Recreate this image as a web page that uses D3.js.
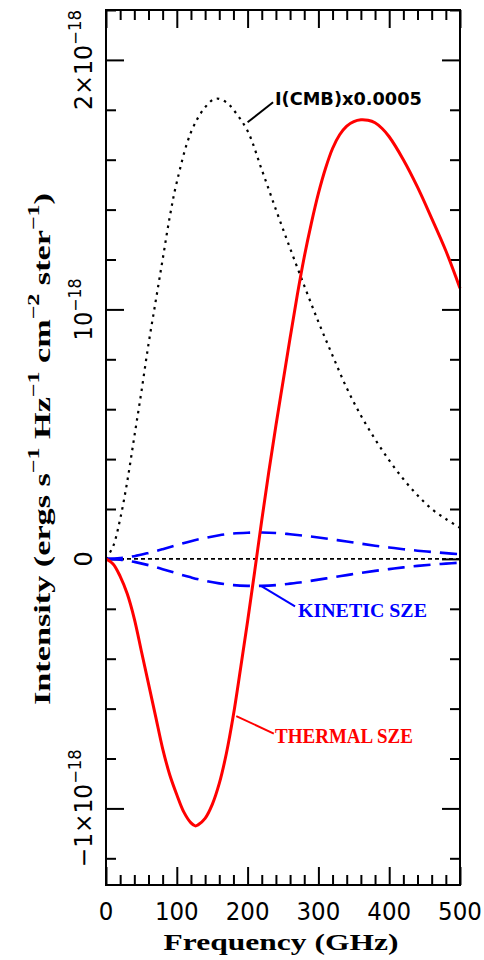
<!DOCTYPE html>
<html>
  <head>
    <style>
      body { margin: 0; background: #fff; }
      .tick line { stroke: #000; stroke-width: 2px; }
      .domain { display: none; }
    </style>
  </head>
  <body>
    <script src="https://d3js.org/d3.v7.min.js"></script>
    <script>
    var width = 484, height = 960;

    // frequencies in GHz, intensities in units of 1e-18 erg s-1 Hz-1 cm-2 ster-1
    var freqCMB = [0,10,20,30,40,50,60,70,80,90,100,120,140,155,170,180,200,220,240,260,280,300,320,340,360,380,400,420,440,460,480,500];
    var cmbVals = [0,0.05,0.16,0.31,0.49,0.67,0.86,1.03,1.20,1.37,1.51,1.71,1.81,1.845,1.83,1.80,1.715,1.56,1.40,1.245,1.095,0.95,0.815,0.685,0.575,0.48,0.395,0.32,0.255,0.20,0.16,0.125];

    var freqT = [0,10,20,30,40,50,60,70,80,90,100,110,120,126,130,140,150,160,170,180,190,200,210,220,230,240,250,260,270,280,290,300,310,320,330,340,350,360,370,380,390,400,420,440,460,480,500];
    var thermVals = [0,-0.02,-0.07,-0.14,-0.24,-0.37,-0.50,-0.63,-0.76,-0.865,-0.945,-1.015,-1.058,-1.07,-1.066,-1.04,-0.985,-0.90,-0.78,-0.625,-0.44,-0.25,-0.05,0.155,0.35,0.535,0.71,0.885,1.055,1.21,1.345,1.465,1.565,1.645,1.70,1.735,1.753,1.76,1.758,1.748,1.725,1.692,1.60,1.49,1.365,1.235,1.085];

    var freqK = [0,20,40,60,80,100,120,140,160,180,200,220,240,260,280,300,320,340,360,380,400,420,440,460,480,500];
    var kinUp = [0,0.003,0.011,0.024,0.039,0.055,0.071,0.084,0.095,0.102,0.105,0.106,0.104,0.099,0.093,0.086,0.078,0.070,0.061,0.053,0.046,0.039,0.033,0.028,0.023,0.019];
    var kinDown = [0,-0.003,-0.012,-0.025,-0.041,-0.058,-0.074,-0.088,-0.098,-0.105,-0.108,-0.108,-0.105,-0.099,-0.092,-0.083,-0.074,-0.065,-0.056,-0.048,-0.041,-0.034,-0.028,-0.023,-0.019,-0.015];

    var xTickVals = [0,100,200,300,400,500];
    var yTickLabels = [
      {v: 2, parts: [["2×10"], ["−18", 1]], len: 100},
      {v: 1, parts: [["10"], ["−18", 1]], len: 62},
      {v: 0, parts: [["0"]], len: 0},
      {v: -1, parts: [["−1×10"], ["−18", 1]], len: 118}
    ];
    var yTitle = [["Intensity (ergs s"], ["−1", 1], [" Hz"], ["−1", 1], [" cm"], ["−2", 1], [" ster"], ["−1", 1], [")"]];

    var svg = d3.select("body").append("svg")
        .attr("width", width)
        .attr("height", height);

    var x = d3.scaleLinear().domain([0, 500]).range([106, 460]);
    var y = d3.scaleLinear().domain([-1.307, 2.2]).range([885, 10]);

    // ticks on all four sides, pointing inwards
    function ticks(axis, tx, ty, vals, size) {
      svg.append("g")
          .attr("transform", "translate(" + tx + "," + ty + ")")
          .call(axis.tickValues(vals).tickSize(size).tickFormat(""));
    }
    var xMinor = d3.range(0, 501, 20).filter(function(d){ return d % 100; });
    var yMinor = d3.range(-12, 23, 2).map(function(d){ return d / 10; }).filter(function(d){ return Math.abs(d - Math.round(d)) > 0.01; });
    var yMajor = [-1, 0, 1, 2];
    ticks(d3.axisBottom(x), 0, 885, xMinor, -10);
    ticks(d3.axisBottom(x), 0, 885, xTickVals, -18);
    ticks(d3.axisTop(x), 0, 10, xMinor, -10);
    ticks(d3.axisTop(x), 0, 10, xTickVals, -18);
    ticks(d3.axisLeft(y), 106, 0, yMinor, -10);
    ticks(d3.axisLeft(y), 106, 0, yMajor, -18);
    ticks(d3.axisRight(y), 460, 0, yMinor, -10);
    ticks(d3.axisRight(y), 460, 0, yMajor, -18);

    var line = d3.line()
        .x(function(d){ return x(d[0]); })
        .y(function(d){ return y(d[1]); })
        .curve(d3.curveCatmullRom.alpha(0.5));

    svg.append("path")
        .datum(freqCMB.map(function(f, i){ return [f, cmbVals[i]]; }))
        .attr("d", line)
        .attr("fill", "none")
        .attr("stroke", "#000")
        .attr("stroke-width", 2.2)
        .attr("stroke-dasharray", "2.5,5");

    svg.append("path")
        .datum([[0, 0], [500, 0]])
        .attr("d", line)
        .attr("stroke", "#000")
        .attr("stroke-width", 1.6)
        .attr("stroke-dasharray", "4,3");

    [kinUp, kinDown].forEach(function(vals) {
      svg.append("path")
          .datum(freqK.map(function(f, i){ return [f, vals[i]]; }))
          .attr("d", line)
          .attr("fill", "none")
          .attr("stroke", "#0000ff")
          .attr("stroke-width", 2.6)
          .attr("stroke-dasharray", "17,9");
    });

    svg.append("path")
        .datum(freqT.map(function(f, i){ return [f, thermVals[i]]; }))
        .attr("d", line)
        .attr("fill", "none")
        .attr("stroke", "#ff0000")
        .attr("stroke-width", 3);

    svg.append("rect")
        .attr("x", x(0)).attr("y", y(2.2))
        .attr("width", x(500) - x(0)).attr("height", y(-1.307) - y(2.2))
        .attr("fill", "none")
        .attr("stroke", "#000")
        .attr("stroke-width", 2);

    // text with optional superscripts, stretched to a given length
    function label(parts, o) {
      var t = svg.append("text")
          .attr("font-family", o.font || "DejaVu Sans")
          .attr("font-weight", o.weight || "normal")
          .attr("font-size", o.size)
          .attr("fill", o.color || "#000");
      var up = 0;
      parts.forEach(function(p) {
        var s = t.append("tspan").text(p[0]);
        if (p[1] && !up) { s.attr("dy", -o.size * 0.45).attr("font-size", o.size * 0.7); up = 1; }
        else if (!p[1] && up) { s.attr("dy", o.size * 0.45); up = 0; }
        else if (p[1]) s.attr("font-size", o.size * 0.7);
      });
      var b = t.node().getBBox();
      var sx = o.len ? o.len / b.width : 1;
      var a = o.anchor == null ? 0.5 : o.anchor;
      t.attr("transform", "translate(" + o.x + "," + o.y + ") rotate(" + (o.rot || 0) + ") scale(" + sx + ",1) translate(" + (-b.x - a * b.width) + ",0)");
      return t;
    }

    xTickVals.forEach(function(v) {
      label([[String(v)]], {x: x(v), y: 920, size: 24, len: String(v).length * 14.6});
    });
    label([["Frequency (GHz)"]], {x: 281, y: 950, size: 24, font: "Liberation Serif", weight: "bold", len: 235});

    yTickLabels.forEach(function(d) {
      label(d.parts, {x: 92, y: y(d.v), rot: -90, size: 24, len: d.len});
    });
    label(yTitle, {x: 50, y: 449, rot: -90, size: 24, font: "Liberation Serif", weight: "bold", len: 512});

    // curve annotations, anchored in data units
    var notes = [
      {text: "I(CMB)x0.0005", color: "#000", from: [200, 1.75], to: [236, 1.83], at: [238.7, 1.82], len: 147, size: 18, font: "DejaVu Sans"},
      {text: "KINETIC SZE", color: "#0000ff", from: [220, -0.11], to: [267, -0.19], at: [271.2, -0.233], len: 129, size: 19, font: "Liberation Serif"},
      {text: "THERMAL SZE", color: "#ff0000", from: [184, -0.63], to: [237, -0.70], at: [238.7, -0.739], len: 138, size: 20, font: "Liberation Serif"}
    ];
    notes.forEach(function(n) {
      svg.append("line")
          .attr("x1", x(n.from[0])).attr("y1", y(n.from[1]))
          .attr("x2", x(n.to[0])).attr("y2", y(n.to[1]))
          .attr("stroke", n.color)
          .attr("stroke-width", 2);
      label([[n.text]], {x: x(n.at[0]), y: y(n.at[1]), size: n.size, font: n.font, weight: "bold", color: n.color, len: n.len, anchor: 0});
    });
    </script>
  </body>
</html>
